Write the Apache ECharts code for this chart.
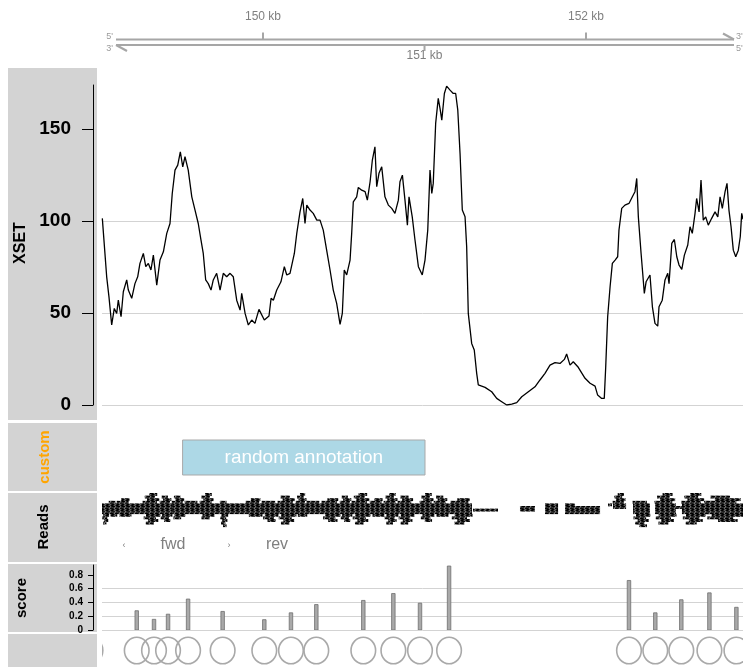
<!DOCTYPE html>
<html><head><meta charset="utf-8">
<script src="https://cdn.jsdelivr.net/npm/echarts@6/dist/echarts.min.js"></script>
<style>html,body{margin:0;padding:0;background:#fff}#c{width:743px;height:667px}</style>
</head><body><div id="c"></div><script>
// ---------------- data ----------------
const X_MIN = 149.003, X_MAX = 152.972; // kb
const genomeTicksKb = [150, 151, 152];
const genomeTickLabels = ['150 kb', '151 kb', '152 kb'];

const xsetPos = [149.005,149.032,149.046,149.063,149.079,149.094,149.104,149.121,149.135,149.156,149.166,149.187,149.207,149.224,149.238,149.259,149.274,149.290,149.306,149.321,149.342,149.362,149.383,149.404,149.424,149.438,149.455,149.472,149.488,149.503,149.517,149.537,149.559,149.579,149.599,149.616,149.630,149.645,149.661,149.678,149.692,149.713,149.734,149.754,149.775,149.796,149.816,149.837,149.858,149.868,149.889,149.909,149.930,149.950,149.975,150.008,150.037,150.050,150.064,150.085,150.111,150.132,150.147,150.167,150.194,150.209,150.229,150.246,150.260,150.271,150.291,150.311,150.333,150.353,150.373,150.394,150.415,150.435,150.456,150.477,150.491,150.503,150.518,150.539,150.549,150.559,150.580,150.590,150.611,150.632,150.646,150.663,150.677,150.693,150.704,150.718,150.735,150.755,150.776,150.797,150.817,150.838,150.848,150.863,150.879,150.894,150.904,150.924,150.941,150.962,150.986,151.003,151.020,151.034,151.045,151.054,151.069,151.085,151.096,151.107,151.123,151.137,151.158,151.178,151.193,151.206,151.220,151.234,151.251,151.261,151.271,151.292,151.308,151.323,151.333,151.375,151.416,151.447,151.478,151.509,151.540,151.571,151.602,151.643,151.684,151.715,151.746,151.777,151.808,151.839,151.866,151.880,151.901,151.921,151.952,151.963,151.994,152.025,152.056,152.072,152.097,152.113,152.122,152.134,152.149,152.163,152.180,152.196,152.204,152.221,152.241,152.266,152.287,152.303,152.314,152.324,152.341,152.351,152.361,152.372,152.396,152.411,152.427,152.444,152.452,152.472,152.489,152.506,152.514,152.531,152.547,152.562,152.576,152.593,152.609,152.630,152.644,152.658,152.675,152.685,152.700,152.712,152.726,152.741,152.757,152.778,152.799,152.816,152.830,152.844,152.861,152.873,152.885,152.898,152.912,152.927,152.943,152.955,152.964,152.972];
const xsetVal = [101.5,69.7,58.9,43.5,52.5,49.8,57,48,61.6,68,62.5,58,66,69.7,77,82.4,75.2,77,73.4,81.5,65.2,78.8,83.3,93.3,98.7,115,127.7,130.4,137.7,129.5,135,127.7,113.2,106,98.7,89.7,82.4,68,66,62.5,68,71.6,62.5,71.6,69.7,71.6,69.7,57,51.6,60.7,49.8,43.5,46.2,44.4,52,46.2,48.4,58,57,62.5,67,75.2,70.7,71.6,82.4,93.3,105,112.3,98.7,108.7,106,104.2,100.5,100.5,95.1,84.2,73.4,62.5,55.3,43.8,49.8,73.4,70.7,78.8,93.3,110.5,113.2,118.3,116.8,116,111.4,121.4,133.2,140.4,118.7,126,129.5,113.2,108.7,106.9,104.2,111.4,121.4,125,111.4,97.8,113.2,102.3,89.7,75.2,70.7,78.8,95.1,127.7,115,120.5,153.1,166.7,161.3,154.9,169.4,173.4,171.2,169.4,169.4,160.3,136.8,106,102.3,86,49.8,33.5,29.9,17.2,10.9,9.6,7.2,3.6,1.8,0,0.5,1.3,4.5,7.2,9.9,13.6,17.2,21.7,23,22.6,24.8,27.7,21.7,23.5,20.5,19.9,14.5,11.8,10.3,5.4,3.6,3.6,20.8,48,64.3,77,78.8,80.6,95.1,106.9,108.7,109.6,113.2,116,123.2,102.3,82.4,71.6,60.7,67,70.7,53.4,44.4,42.9,53.4,57,68,71.6,66,87.9,90,80.6,76.1,73.8,81.5,87,96.9,93.3,104.2,112.3,105,122.3,100.5,102.3,97.8,101.5,105,102.3,113.2,106.9,116,120.5,106,96.9,84.2,80.6,84.2,91.5,104.2,101];
const xsetTicks = [0, 50, 100, 150];

const annoStart = [149.502];
const annoEnd = [151.003];
const annoLabel = ['random annotation'];

// read pile-up clusters: start kb, end kb, top stack row, bottom stack row
const readStart = [149.003,149.046,149.096,149.183,149.257,149.362,149.437,149.517,149.610,149.697,149.734,149.783,149.895,149.994,150.093,150.204,150.272,150.365,150.477,150.551,150.663,150.749,150.836,150.935,150.972,151.059,151.146,151.164,151.300,151.591,151.746,151.870,151.932,152.136,152.167,152.291,152.427,152.557,152.594,152.737];
const readEnd   = [149.046,149.096,149.183,149.257,149.362,149.437,149.517,149.610,149.697,149.734,149.783,149.895,149.994,150.093,150.204,150.272,150.365,150.477,150.551,150.663,150.749,150.836,150.935,150.972,151.059,151.146,151.164,151.294,151.455,151.684,151.827,151.932,152.087,152.161,152.248,152.396,152.557,152.594,152.737,152.972];
const readTop   = [5,4,3,5,1,2,2,4,1,5,4,5,3,4,2,1,4,3,2,1,3,1,2,5,1,2,5,3,7,6,5,5,6,5,1,4,1,6,1,2];
const readBot   = [12,9,9,8,12,11,10,8,10,8,13,8,9,11,12,9,8,11,11,12,9,12,12,8,11,9,8,12,7,7,8,8,8,5,6,13,12,6,12,11];

const featPos   = [148.932,149.218,149.325,149.412,149.536,149.750,150.008,150.173,150.330,150.621,150.807,150.972,151.152,152.266,152.429,152.590,152.764,152.931];
const featScore = [0.30,0.28,0.155,0.23,0.45,0.27,0.15,0.25,0.37,0.43,0.53,0.39,0.93,0.72,0.25,0.44,0.54,0.33];
const scoreTicks = [0, 0.2, 0.4, 0.6, 0.8];

// ---------------- styling ----------------
const FONT = '"Liberation Sans", Arial, Helvetica, sans-serif';
const AXIS_GRAY = '#a6a6a6';
const PANEL_GRAY = '#d3d3d3';
const BAND_TOP = 5, BAND_BOT = 8; // rows of the dense central band (layout)

// chevron pattern for reads
const pat = document.createElement('canvas');
pat.width = 5; pat.height = 5;
(function(){
  const g = pat.getContext('2d');
  g.strokeStyle = '#000'; g.lineWidth = 1.6;
  g.beginPath(); g.moveTo(0.3, 0.2); g.lineTo(4.5, 1.25); g.lineTo(0.3, 2.3); g.stroke();
  g.beginPath(); g.moveTo(4.7, 2.7); g.lineTo(0.5, 3.75); g.lineTo(4.7, 4.8); g.stroke();
})();
const PAT_FILL = {image: pat, repeat: 'repeat'};

const chart = echarts.init(document.getElementById('c'));

function renderGenomeAxis(params, api) {
  const cs = params.coordSys;
  const i = params.dataIndex;
  const x = api.coord([api.value(0), 0])[0];
  const children = [];
  const yU = 39.5, yL = 45;
  if (i === 0) {
    const xl = cs.x + 14, xr = cs.x + cs.width - 9;
    const ls = {stroke: AXIS_GRAY, lineWidth: 2.2};
    children.push({type:'line', shape:{x1:xl, y1:yU, x2:xr, y2:yU}, style:ls});
    children.push({type:'line', shape:{x1:xl, y1:yL, x2:xr, y2:yL}, style:ls});
    children.push({type:'line', shape:{x1:xr-11, y1:yU-6, x2:xr, y2:yU}, style:ls});
    children.push({type:'line', shape:{x1:xl, y1:yL, x2:xl+11, y2:yL+6}, style:ls});
    const ts = {fill: '#9a9a9a', font: '9px ' + FONT, align:'right', verticalAlign:'middle'};
    children.push({type:'text', style:Object.assign({text:"5'", x:xl-3, y:yU-3}, ts)});
    children.push({type:'text', style:Object.assign({text:"3'", x:xl-3, y:yL+4}, ts)});
    children.push({type:'text', style:Object.assign({}, ts, {text:"3'", x:xr+2, y:yU-3, align:'left'})});
    children.push({type:'text', style:Object.assign({}, ts, {text:"5'", x:xr+2, y:yL+4, align:'left'})});
  }
  const up = i % 2 === 0;
  const tl = {stroke: AXIS_GRAY, lineWidth: 2};
  if (up) {
    children.push({type:'line', shape:{x1:x, y1:yU-7, x2:x, y2:yU}, style:tl});
    children.push({type:'text', style:{text: genomeTickLabels[i], x:x, y:17, fill:'#808080', font:'12px ' + FONT, align:'center', verticalAlign:'middle'}});
  } else {
    children.push({type:'line', shape:{x1:x, y1:yL, x2:x, y2:yL+6}, style:tl});
    children.push({type:'text', style:{text: genomeTickLabels[i], x:x, y:56, fill:'#808080', font:'12px ' + FONT, align:'center', verticalAlign:'middle'}});
  }
  return {type:'group', children};
}

function renderAnno(params, api) {
  const cs = params.coordSys;
  const x0 = api.coord([api.value(0), 0])[0];
  const x1 = api.coord([api.value(1), 0])[0];
  const y0 = cs.y + 17, h = 35;
  return {type:'group', children:[
    {type:'rect', shape:{x:x0, y:y0, width:x1-x0, height:h}, style:{fill:'#add8e6', stroke:'#a9a9a9', lineWidth:1}},
    {type:'text', style:{text: annoLabel[params.dataIndex], x:(x0+x1)/2, y:y0+h/2, fill:'#ffffff', font:'19px ' + FONT, align:'center', verticalAlign:'middle'}}
  ]};
}

// each cluster drawn as stacked rows of reads; rows away from the central band get shorter
function renderReads(params, api) {
  const x0 = api.coord([api.value(0), 0])[0];
  const x1 = api.coord([api.value(1), 0])[0];
  const t = api.value(2), b = api.value(3);
  const w = x1 - x0;
  const children = [];
  const upD = Math.max(0, BAND_TOP - t), dnD = Math.max(0, b - BAND_BOT);
  for (let r = t; r <= b; r++) {
    const y0 = api.coord([X_MIN, r - 1])[1];
    const y1 = api.coord([X_MIN, r])[1];
    let d = 0, D = 1;
    if (r < BAND_TOP) { d = BAND_TOP - r; D = upD; }
    else if (r > BAND_BOT) { d = r - BAND_BOT; D = dnD; }
    const frac = d === 0 ? 1 : 0.85 - 0.5 * (d - 1) / Math.max(1, D);
    const shift = d === 0 ? 0 : ((r % 2) ? 0.1 : -0.1) * w;
    const rw = w * frac;
    const rx = x0 + (w - rw) / 2 + shift;
    children.push({type:'rect', shape:{x:rx, y:y0, width:rw, height:y1 - y0 + 0.3}, style:{fill:PAT_FILL}});
  }
  return {type:'group', children};
}

function renderBar(params, api) {
  const p = api.coord([api.value(0), api.value(1)]);
  const b = api.coord([api.value(0), 0]);
  return {type:'rect', shape:{x:p[0]-1.75, y:p[1], width:3.5, height:b[1]-p[1]}, style:{fill:'#a9a9a9', stroke:'#6e6e6e', lineWidth:0.8}};
}

function renderCircle(params, api) {
  const p = api.coord([api.value(0), 0.5]);
  return {type:'ellipse', shape:{cx:p[0], cy:p[1], rx:12.3, ry:13.3}, style:{fill:null, stroke:'#a9a9a9', lineWidth:1.6}};
}

const grids = [
  {left:102, right:0, top:0, height:68},
  {left:102, right:0, top:85, height:320},
  {left:102, right:0, top:423, height:68},
  {left:102, right:0, top:493, height:69},
  {left:102, right:0, top:565, height:65},
  {left:102, right:0, top:634, height:33}
];

const hiddenY = (gi, min, max, inverse) => ({gridIndex:gi, type:'value', min, max, inverse: !!inverse, show:false, splitLine:{show:false}});

const option = {
  animation: false,
  backgroundColor: '#ffffff',
  grid: grids,
  xAxis: grids.map((g, i) => ({gridIndex:i, type:'value', min:X_MIN, max:X_MAX, show:false, splitLine:{show:false}})),
  yAxis: [
    hiddenY(0, 0, 68, true),
    {gridIndex:1, type:'value', min:0, max:174, interval:50, offset:9,
      axisLine:{show:true, onZero:false, lineStyle:{color:'#000', width:1}},
      axisTick:{show:true, length:11, customValues: xsetTicks, lineStyle:{color:'#000', width:1}},
      axisLabel:{show:true, customValues: xsetTicks, fontSize:19, fontWeight:'bold', color:'#000', margin:22, fontFamily:FONT},
      splitLine:{show:true, showMaxLine:false, lineStyle:{color:'#d3d3d3', width:1}}},
    hiddenY(2, 0, 1),
    hiddenY(3, 0, 26.5, true),
    {gridIndex:4, type:'value', min:0, max:0.945, interval:0.2, offset:9,
      axisLine:{show:true, onZero:false, lineStyle:{color:'#000', width:1}},
      axisTick:{show:true, length:5, customValues: scoreTicks, lineStyle:{color:'#000', width:1}},
      axisLabel:{show:true, customValues: scoreTicks, fontSize:10, fontWeight:'bold', color:'#000', margin:10, fontFamily:FONT},
      splitLine:{show:true, showMaxLine:false, lineStyle:{color:'#d3d3d3', width:1}}},
    hiddenY(5, 0, 1)
  ],
  series: [
    {type:'custom', xAxisIndex:0, yAxisIndex:0, renderItem:renderGenomeAxis, data: genomeTicksKb.map(v => [v]), silent:true},
    {type:'line', xAxisIndex:1, yAxisIndex:1, data: xsetPos.map((p, i) => [p, xsetVal[i]]), showSymbol:false, symbol:'none',
      lineStyle:{color:'#000', width:1.3}, silent:true},
    {type:'custom', xAxisIndex:2, yAxisIndex:2, renderItem:renderAnno, data: annoStart.map((s, i) => [s, annoEnd[i]]), silent:true},
    {type:'custom', xAxisIndex:3, yAxisIndex:3, renderItem:renderReads, clip:true,
      data: readStart.map((s, i) => [s, readEnd[i], readTop[i], readBot[i]]), silent:true},
    {type:'custom', xAxisIndex:4, yAxisIndex:4, renderItem:renderBar, clip:true, data: featPos.map((p, i) => [p, featScore[i]]), silent:true},
    {type:'custom', xAxisIndex:5, yAxisIndex:5, renderItem:renderCircle, clip:true, data: featPos.map(p => [p]), silent:true}
  ],
  graphic: [
    {type:'rect', z:-10, shape:{x:8, y:68, width:89, height:352}, style:{fill:PANEL_GRAY}},
    {type:'rect', z:-10, shape:{x:8, y:423, width:89, height:68}, style:{fill:PANEL_GRAY}},
    {type:'rect', z:-10, shape:{x:8, y:493, width:89, height:69}, style:{fill:PANEL_GRAY}},
    {type:'rect', z:-10, shape:{x:8, y:564, width:89, height:68}, style:{fill:PANEL_GRAY}},
    {type:'rect', z:-10, shape:{x:8, y:634, width:89, height:33}, style:{fill:PANEL_GRAY}},
    {type:'text', x:21, y:243, rotation:Math.PI/2, style:{text:'XSET', font:'bold 16px ' + FONT, fill:'#000', align:'center', verticalAlign:'middle', textAlign:'center', textVerticalAlign:'middle'}},
    {type:'text', x:45, y:457, rotation:Math.PI/2, style:{text:'custom', font:'bold 15px ' + FONT, fill:'#ffa500', align:'center', verticalAlign:'middle', textAlign:'center', textVerticalAlign:'middle'}},
    {type:'text', x:44, y:527, rotation:Math.PI/2, style:{text:'Reads', font:'bold 15px ' + FONT, fill:'#000', align:'center', verticalAlign:'middle', textAlign:'center', textVerticalAlign:'middle'}},
    {type:'text', x:22, y:598, rotation:Math.PI/2, style:{text:'score', font:'bold 15px ' + FONT, fill:'#000', align:'center', verticalAlign:'middle', textAlign:'center', textVerticalAlign:'middle'}},
    {type:'text', x:124, y:546, style:{text:'‹', font:'9px ' + FONT, fill:'#808080', align:'center', verticalAlign:'middle', textAlign:'center', textVerticalAlign:'middle'}},
    {type:'text', x:173, y:545, style:{text:'fwd', font:'16px ' + FONT, fill:'#808080', align:'center', verticalAlign:'middle', textAlign:'center', textVerticalAlign:'middle'}},
    {type:'text', x:229, y:546, style:{text:'›', font:'9px ' + FONT, fill:'#808080', align:'center', verticalAlign:'middle', textAlign:'center', textVerticalAlign:'middle'}},
    {type:'text', x:277, y:545, style:{text:'rev', font:'16px ' + FONT, fill:'#808080', align:'center', verticalAlign:'middle', textAlign:'center', textVerticalAlign:'middle'}}
  ]
};
chart.setOption(option);
</script></body></html>
